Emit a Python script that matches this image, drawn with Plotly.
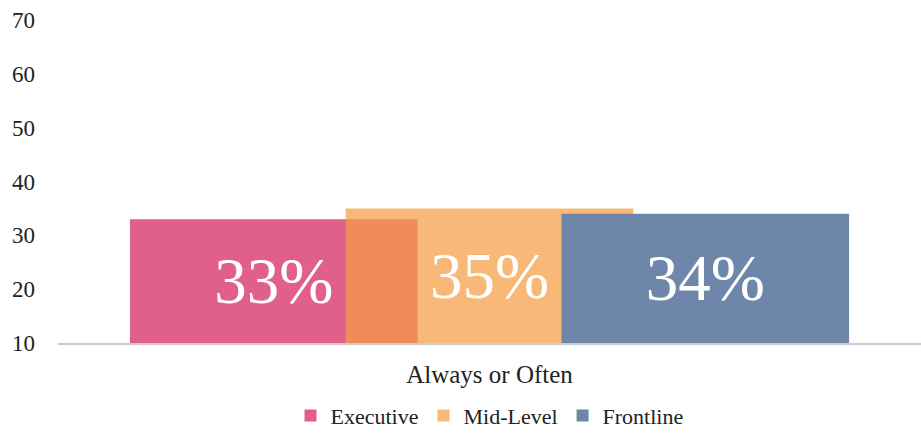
import plotly.graph_objects as go

categories = ["Always or Often"]
series_names = ["Executive", "Mid-Level", "Frontline"]
series_values = [[33], [35], [34]]
colors = ["#E0608A", "rgba(245,156,68,0.72)", "#6E86AA"]
offsets = [-5 / 12, -2 / 12, 1 / 12]
axis_base = 10

serif = "Liberation Serif"

fig = go.Figure()
for name, vals, color, off in zip(series_names, series_values, colors, offsets):
    fig.add_trace(go.Bar(
        name=name,
        x=categories,
        y=[v - axis_base for v in vals],
        base=axis_base,
        width=1 / 3,
        offset=off,
        marker=dict(color=color, line=dict(width=0)),
        text=[f"{v}%" for v in vals],
        textposition="inside",
        insidetextanchor="middle",
        textfont=dict(family=serif, size=65, color="white"),
    ))

fig.update_layout(
    barmode="overlay",
    width=921,
    height=436,
    margin=dict(l=58, r=0, t=20, b=93, autoexpand=False),
    plot_bgcolor="white",
    paper_bgcolor="white",
    font=dict(family=serif, size=20, color="#222222"),
    uniformtext=dict(minsize=10, mode="show"),
    legend=dict(
        orientation="h",
        x=0.5,
        xanchor="center",
        y=-0.225,
        yanchor="middle",
        font=dict(family=serif, size=22, color="#222222"),
    ),
    xaxis=dict(
        automargin=False,
        showline=True,
        linecolor="#CCCCCC",
        linewidth=2,
        showgrid=False,
        tickfont=dict(size=25),
        ticks="",
        ticklabelstandoff=8,
    ),
    yaxis=dict(
        automargin=False,
        range=[10, 70],
        dtick=10,
        showgrid=False,
        zeroline=False,
        showline=False,
        ticklabelstandoff=22,
        tickfont=dict(size=23),
    ),
)

# the page's default body margin adds scrollbars and shrinks the shot
fig.write_html(
    "out.html",
    config={"displayModeBar": False},
    post_script="document.body.style.margin='0';document.body.style.overflow='hidden';",
)
